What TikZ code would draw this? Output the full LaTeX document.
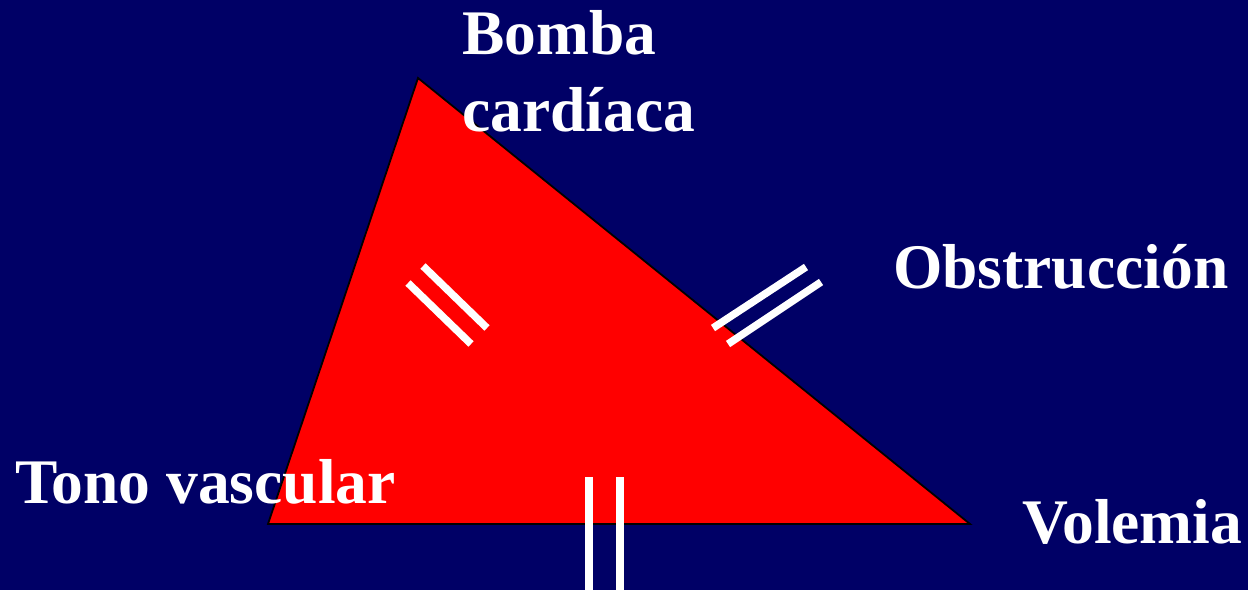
\documentclass[tikz,border=0pt]{standalone}
\usepackage{fontspec}
\setmainfont{Liberation Serif}
\definecolor{navy}{RGB}{0,0,102}
\definecolor{tri}{RGB}{255,0,0}
\begin{document}
\begin{tikzpicture}[x=1pt,y=-1pt,
  lbl/.style={text=white,font=\fontsize{63.5}{77}\selectfont\bfseries,anchor=base west,inner sep=0pt},
  bar/.style={draw=white,line width=7.5pt,line cap=butt}]
\fill[navy] (0,0) rectangle (1248,590);
\useasboundingbox (0,0) rectangle (1248,590);
\filldraw[fill=tri,draw=black,line width=1.8pt,line join=miter] (418,78) -- (268,524) -- (970,524) -- cycle;
% bars
\draw[bar] (423,266) -- (487,328);
\draw[bar] (408,283) -- (471,344);
\draw[bar] (713,328) -- (806,267);
\draw[bar] (728,344) -- (821,282);
\draw[bar] (589,477) -- (589,590);
\draw[bar] (620,477) -- (620,590);
% labels
\node[lbl] (bomba) at (462,54) {Bomba};
\node[lbl] (cardiaca) at (462,131) {cardíaca};
\node[lbl] (obst) at (893,288) {Obstrucción};
\node[lbl] (tono) at (15,503) {Tono vascular};
\node[lbl] (vol) at (1022,543) {Volemia};
\end{tikzpicture}
\end{document}
